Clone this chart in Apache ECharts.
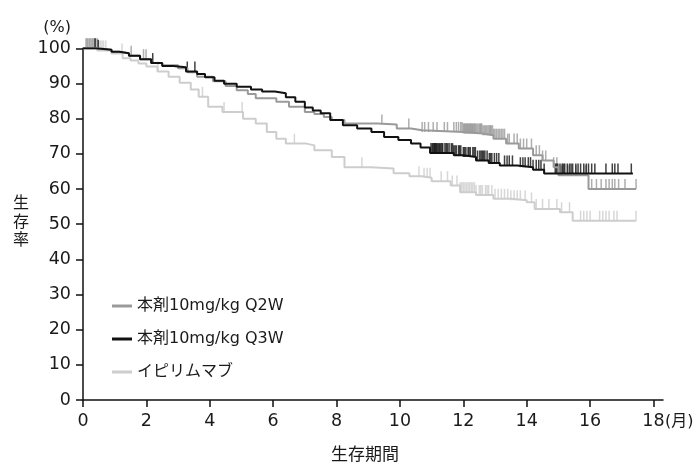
<!DOCTYPE html>
<html><head><meta charset="utf-8">
<script src="https://cdn.jsdelivr.net/npm/echarts@6/dist/echarts.min.js"></script>
<style>html,body{margin:0;padding:0;background:#fff}#c{width:696px;height:464px}</style>
</head><body><div id="c"></div>
<script>
const seriesNames = ['本剤10mg/kg Q2W', '本剤10mg/kg Q3W', 'イピリムマブ'];
const seriesColors = ['#9a9a9a', '#111111', '#cdcdcd'];
const xTicks = [0, 2, 4, 6, 8, 10, 12, 14, 16, 18];
const xAxisTitle = '生存期間';
const yAxisTitle = '生存率';
const yUnit = '(%)';
const xUnit = '(月)';

// Kaplan-Meier step points: [month, survival %]
const q2wCurve = [[0,100],[0.5,99.6],[0.9,99.0],[1.15,98.6],[1.45,97.9],[1.8,96.9],[2.15,95.8],[2.5,95.2],[3.0,94.3],[3.3,93.2],[3.6,91.9],[4.1,90.6],[4.5,89.3],[4.85,88.1],[5.2,87.0],[5.45,85.8],[6.1,84.8],[6.5,83.4],[7.0,81.9],[7.3,81.3],[7.6,80.5],[7.85,79.6],[8.25,78.6],[9.3,78.3],[9.9,77.2],[10.35,76.7],[10.7,76.2],[12.0,75.8],[12.6,75.3],[12.95,74.3],[13.35,72.9],[13.75,71.5],[14.2,69.6],[14.5,68.1],[14.85,66.2],[15.0,63.9],[15.95,60.0],[17.45,60.0]];
const q3wCurve = [[0,100],[0.4,99.6],[0.9,99.0],[1.15,98.6],[1.45,97.9],[1.8,96.9],[2.15,95.8],[2.5,95.0],[2.85,94.6],[3.25,93.4],[3.6,92.7],[3.85,91.8],[4.15,90.8],[4.45,89.9],[4.85,89.1],[5.3,88.3],[5.65,87.7],[6.05,87.2],[6.4,86.1],[6.7,84.8],[7.0,83.2],[7.25,82.3],[7.5,81.5],[7.8,79.6],[8.2,78.1],[8.65,77.2],[9.1,76.2],[9.5,74.8],[9.95,73.9],[10.35,72.9],[10.65,71.8],[10.95,70.2],[11.7,69.6],[12.0,69.1],[12.4,68.1],[12.8,67.4],[13.15,66.7],[13.7,66.2],[14.2,65.5],[14.55,64.4],[17.35,64.4]];
const ipiCurve = [[0,100],[0.45,99.4],[0.9,98.5],[1.25,97.2],[1.5,96.5],[1.75,95.7],[2.0,94.8],[2.35,93.4],[2.7,91.9],[3.05,90.2],[3.4,88.3],[3.65,86.2],[3.95,83.4],[4.4,81.9],[5.05,80.0],[5.45,78.6],[5.8,76.2],[6.1,74.3],[6.4,72.9],[7.05,72.4],[7.3,71.0],[7.85,69.1],[8.25,66.2],[9.1,65.8],[9.8,64.5],[10.3,63.6],[10.7,63.2],[11.0,62.2],[11.6,61.0],[11.9,59.1],[12.4,58.3],[12.95,57.2],[13.5,56.8],[14.0,56.2],[14.25,54.3],[15.05,53.4],[15.45,51.0],[17.45,51.0]];

// censoring times (months)
const q2wCensor = [0.1,0.15,0.2,0.25,0.3,0.35,0.4,0.45,1.52,1.91,1.99,9.43,10.28,10.7,10.78,10.9,11.05,11.17,11.4,11.5,11.7,11.78,11.85,11.92,11.96,12.0,12.03,12.05,12.08,12.1,12.13,12.15,12.18,12.2,12.23,12.25,12.28,12.3,12.33,12.35,12.38,12.42,12.46,12.5,12.53,12.55,12.58,12.62,12.66,12.7,12.74,12.78,12.82,12.85,12.88,12.92,12.96,13.0,13.05,13.1,13.15,13.2,13.25,13.3,13.4,13.45,13.6,13.7,13.8,13.9,14.0,14.15,14.3,14.4,14.5,14.6,14.85,14.95,15.1,15.3,15.55,15.85,16.05,16.2,16.35,16.5,16.6,16.7,16.78,16.9,17.1,17.45];
const q3wCensor = [0.38,0.48,2.2,3.29,3.53,10.98,11.02,11.05,11.08,11.1,11.13,11.15,11.18,11.22,11.25,11.28,11.32,11.35,11.42,11.46,11.5,11.55,11.62,11.66,11.7,11.74,11.78,11.85,11.88,11.92,12.0,12.04,12.08,12.15,12.18,12.22,12.3,12.34,12.38,12.45,12.52,12.56,12.6,12.64,12.68,12.75,12.82,12.86,12.9,12.98,13.05,13.12,13.3,13.38,13.45,13.55,13.8,13.88,13.95,14.05,14.12,14.2,14.3,14.38,14.45,14.55,14.9,14.94,14.98,15.05,15.12,15.16,15.2,15.28,15.35,15.4,15.45,15.55,15.62,15.7,15.8,15.88,15.95,16.05,16.15,16.5,16.7,16.78,16.88,17.3];
const ipiCensor = [0.1,0.15,0.2,0.25,0.3,0.35,0.4,0.5,0.55,0.6,0.65,0.72,1.23,2.36,3.77,4.45,5.02,6.67,8.8,10.6,10.76,10.86,10.95,11.3,11.5,11.65,11.8,11.9,11.95,12.0,12.05,12.1,12.15,12.2,12.25,12.3,12.35,12.4,12.5,12.55,12.6,12.7,12.75,12.8,12.9,13.0,13.1,13.2,13.3,13.4,13.5,13.6,13.7,13.8,13.95,14.15,14.3,14.5,14.7,14.95,15.1,15.35,15.7,15.8,15.9,16.0,16.3,16.4,16.5,16.6,16.75,16.85,17.45];

function survAt(curve, t) {
  let v = curve[0][1];
  for (const p of curve) { if (p[0] <= t) v = p[1]; else break; }
  return v;
}
function censorPoints(curve, times) { return times.map(t => [t, survAt(curve, t)]); }

const FONT = '"DejaVu Sans", "Noto Sans CJK JP", sans-serif';
const TXT = '#1a1a1a';

const curves = [q2wCurve, q3wCurve, ipiCurve];
const censors = [q2wCensor, q3wCensor, ipiCensor];
const order = [2, 0, 1];
const series = [];
order.forEach(i => {
  series.push({
    name: seriesNames[i], type: 'line', step: 'end', data: curves[i],
    showSymbol: false, color: seriesColors[i],
    lineStyle: { width: 2, color: seriesColors[i] }, silent: true
  });
  series.push({
    name: seriesNames[i] + '_c', type: 'scatter', data: censorPoints(curves[i], censors[i]),
    symbol: 'rect', symbolSize: [1.5, 10], symbolOffset: [0, -5],
    itemStyle: { color: seriesColors[i] }, silent: true
  });
});

const chart = echarts.init(document.getElementById('c'), null, { renderer: 'canvas' });
chart.setOption({
  animation: false,
  backgroundColor: '#fff',
  textStyle: { fontFamily: FONT },
  grid: { left: 83, right: 33, top: 48.3, bottom: 64, containLabel: false, outerBoundsMode: 'none' },
  legend: {
    data: seriesNames, orient: 'vertical', left: 107, top: 292,
    icon: 'rect', itemWidth: 20, itemHeight: 3, itemGap: 15,
    textStyle: { fontSize: 16, lineHeight: 18, color: TXT, fontFamily: FONT }
  },
  xAxis: {
    type: 'value', min: 0, max: 18.3, interval: 2,
    name: xAxisTitle, nameLocation: 'middle', nameGap: 47,
    nameTextStyle: { fontSize: 17, color: TXT, fontFamily: FONT, padding: [0, 16, 0, 0] },
    axisLine: { show: true, lineStyle: { color: '#111', width: 1.5 } },
    axisTick: { show: true, length: 7, customValues: xTicks, lineStyle: { color: '#111', width: 1.5 } },
    axisLabel: { customValues: xTicks, fontSize: 17.5, color: TXT, margin: 13, fontFamily: FONT },
    splitLine: { show: false }
  },
  yAxis: {
    type: 'value', min: 0, max: 100, interval: 10,
    name: yUnit, nameLocation: 'end', nameGap: 12,
    nameTextStyle: { fontSize: 16, color: TXT, align: 'right', padding: [0, 12, 0, 0], fontFamily: FONT },
    axisLine: { show: true, lineStyle: { color: '#111', width: 1.5 } },
    axisTick: { show: true, length: 7, lineStyle: { color: '#111', width: 1.5 } },
    axisLabel: { fontSize: 17.5, color: TXT, margin: 12, fontFamily: FONT },
    splitLine: { show: false }
  },
  graphic: [
    { type: 'text', left: 13, top: 195, style: { text: yAxisTitle.split('').join('\n'), lineHeight: 18.5, fill: TXT, font: '16px ' + FONT } },
    { type: 'text', left: 665, top: 414, style: { text: xUnit, fill: TXT, font: '16px ' + FONT } }
  ],
  series: series
});
</script></body></html>
